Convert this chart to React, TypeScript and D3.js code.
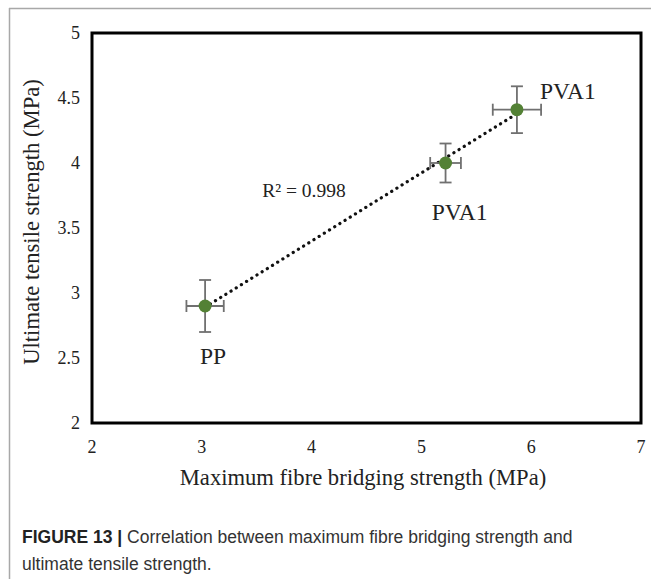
import { useEffect, useRef } from 'react';
import * as d3 from 'd3';

const labels = ['PP', 'PVA1', 'PVA1'];
const bridging = [3.03, 5.22, 5.87];
const bridgingErr = [0.17, 0.14, 0.22];
const tensile = [2.9, 4.0, 4.41];
const tensileErr = [0.2, 0.15, 0.18];
const xTicks = [2, 3, 4, 5, 6, 7];
const yTicks = [2, 2.5, 3, 3.5, 4, 4.5, 5];
const r2Text = 'R² = 0.998';

const W = 651;
const H = 579;
const serif = '"Liberation Serif", "Times New Roman", serif';
const sans = '"Liberation Sans", Arial, sans-serif';

export default function App() {
  const ref = useRef<SVGSVGElement>(null);

  useEffect(() => {
    if (!ref.current) return;
    const svg = d3.select(ref.current);
    svg.selectAll('*').remove();

    const margin = { top: 33, right: 10, bottom: 156, left: 92 };
    const x = d3.scaleLinear().domain([2, 7]).range([margin.left, W - margin.right]);
    const y = d3.scaleLinear().domain([2, 5]).range([H - margin.bottom, margin.top]);

    // outer figure frame
    svg.append('line').attr('x1', 9).attr('x2', W).attr('y1', 8.5).attr('y2', 8.5)
      .attr('stroke', '#a8a8a8').attr('stroke-width', 1.5);
    svg.append('line').attr('x1', 9.5).attr('x2', 9.5).attr('y1', 8).attr('y2', H)
      .attr('stroke', '#a8a8a8').attr('stroke-width', 1.5);

    // plot box
    svg.append('rect')
      .attr('x', x(2)).attr('y', y(5))
      .attr('width', x(7) - x(2)).attr('height', y(2) - y(5))
      .attr('fill', 'none').attr('stroke', '#000').attr('stroke-width', 3);

    // tick labels
    svg.selectAll('.yt').data(yTicks).join('text')
      .attr('x', 80).attr('y', d => y(d)).attr('dy', '0.35em')
      .attr('text-anchor', 'end').attr('font-family', serif).attr('font-size', 18)
      .attr('fill', '#222').text(d => String(d));
    svg.selectAll('.xt').data(xTicks).join('text')
      .attr('x', d => x(d)).attr('y', y(2) + 30)
      .attr('text-anchor', 'middle').attr('font-family', serif).attr('font-size', 18)
      .attr('fill', '#222').text(d => String(d));

    // axis titles
    svg.append('text').attr('x', 363).attr('y', 485)
      .attr('text-anchor', 'middle').attr('font-family', serif).attr('font-size', 22.6)
      .attr('fill', '#222').text('Maximum fibre bridging strength (MPa)');
    svg.append('text')
      .attr('transform', 'translate(39,222) rotate(-90)')
      .attr('text-anchor', 'middle').attr('font-family', serif).attr('font-size', 22.6)
      .attr('fill', '#222').text('Ultimate tensile strength (MPa)');

    // linear trend line
    const pts = bridging.map((b, i) => [b, tensile[i]] as [number, number]);
    const mx = d3.mean(bridging)!;
    const my = d3.mean(tensile)!;
    const slope = d3.sum(pts, p => (p[0] - mx) * (p[1] - my)) / d3.sum(pts, p => (p[0] - mx) ** 2);
    const icpt = my - slope * mx;
    const [x0, x1] = d3.extent(bridging) as [number, number];
    svg.append('line')
      .attr('x1', x(x0)).attr('y1', y(icpt + slope * x0))
      .attr('x2', x(x1)).attr('y2', y(icpt + slope * x1))
      .attr('stroke', '#111').attr('stroke-width', 3.2)
      .attr('stroke-linecap', 'round').attr('stroke-dasharray', '0.1 6');

    // error bars
    const eb = svg.append('g').attr('stroke', '#707070').attr('stroke-width', 1.8);
    const cap = 6;
    bridging.forEach((b, i) => {
      const cx = x(b), cy = y(tensile[i]);
      const yt = y(tensile[i] + tensileErr[i]), yb = y(tensile[i] - tensileErr[i]);
      const xl = x(b - bridgingErr[i]), xr = x(b + bridgingErr[i]);
      eb.append('line').attr('x1', cx).attr('x2', cx).attr('y1', yt).attr('y2', yb);
      eb.append('line').attr('x1', cx - cap).attr('x2', cx + cap).attr('y1', yt).attr('y2', yt);
      eb.append('line').attr('x1', cx - cap).attr('x2', cx + cap).attr('y1', yb).attr('y2', yb);
      eb.append('line').attr('x1', xl).attr('x2', xr).attr('y1', cy).attr('y2', cy);
      eb.append('line').attr('x1', xl).attr('x2', xl).attr('y1', cy - cap).attr('y2', cy + cap);
      eb.append('line').attr('x1', xr).attr('x2', xr).attr('y1', cy - cap).attr('y2', cy + cap);
    });

    // points
    svg.selectAll('.pt').data(pts).join('circle')
      .attr('cx', d => x(d[0])).attr('cy', d => y(d[1])).attr('r', 6.5)
      .attr('fill', '#538135');

    // point labels
    const labelPos = [
      { dx: 8, dy: 58 },
      { dx: 14, dy: 57 },
      { dx: 51, dy: -11 },
    ];
    labels.forEach((l, i) => {
      svg.append('text')
        .attr('x', x(bridging[i]) + labelPos[i].dx).attr('y', y(tensile[i]) + labelPos[i].dy)
        .attr('text-anchor', 'middle').attr('font-family', serif).attr('font-size', 23.5)
        .attr('fill', '#222').text(l);
    });

    svg.append('text').attr('x', 304).attr('y', 197).attr('text-anchor', 'middle')
      .attr('font-family', serif).attr('font-size', 19.5).attr('fill', '#222').text(r2Text);

    // caption
    const cap1 = svg.append('text').attr('x', 22).attr('y', 543)
      .attr('font-family', sans).attr('font-size', 17.5).attr('fill', '#333');
    cap1.append('tspan').attr('font-weight', 'bold').attr('fill', '#222').text('FIGURE 13 | ');
    cap1.append('tspan').text('Correlation between maximum fibre bridging strength and');
    svg.append('text').attr('x', 22).attr('y', 570)
      .attr('font-family', sans).attr('font-size', 17.5).attr('fill', '#333')
      .text('ultimate tensile strength.');
  }, []);

  return (
    <svg ref={ref} width={W} height={H}
      style={{ position: 'absolute', left: 0, top: 0, background: '#fff' }} />
  );
}
